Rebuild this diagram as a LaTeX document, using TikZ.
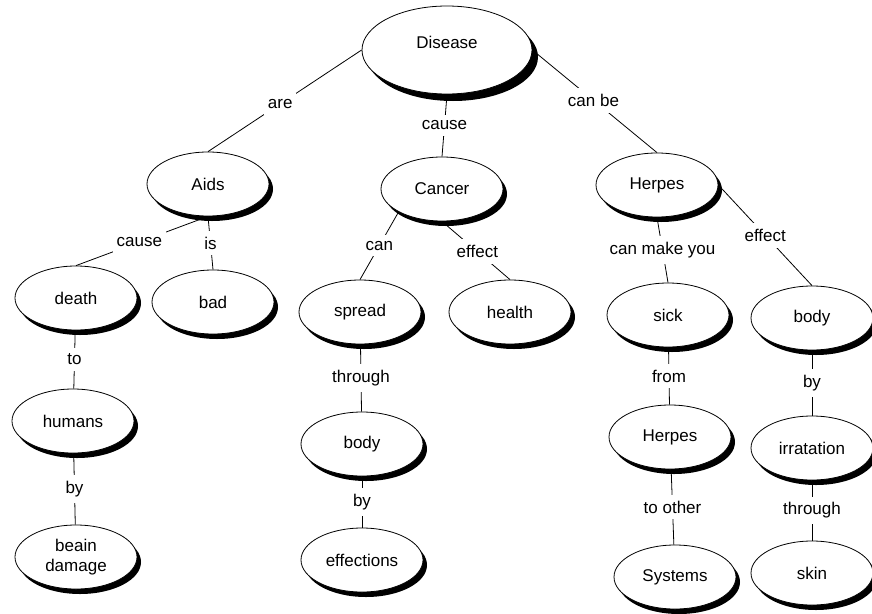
\documentclass[tikz,border=0pt]{standalone}
\usepackage{fontspec}
\setmainfont{Liberation Sans}
\usetikzlibrary{shapes.geometric, shadows, positioning}

\begin{document}
\begin{tikzpicture}[
	x=1pt, y=-1pt,
	font=\fontsize{17}{20}\selectfont,
	concept/.style = {ellipse, draw, fill=white, line width=0.8pt, minimum width=122pt, minimum height=64pt,
		inner sep=0pt, align=center, drop shadow={opacity=1, fill=black, shadow xshift=4pt, shadow yshift=-5pt}},
	rel/.style = {fill=white, inner xsep=4pt, inner ysep=6pt},
	link/.style = {line width=0.8pt}
	]
	\clip (0,0) rectangle (872,613);

	% concepts
	\node[concept, minimum width=170pt, minimum height=88pt, text depth=16pt,
		drop shadow={opacity=1, fill=black, shadow xshift=6pt, shadow yshift=-7pt}] (disease) at (447,50) {Disease};
	\node[concept] (aids) at (208,184) {Aids};
	\node[concept] (cancer) at (442,189) {Cancer};
	\node[concept] (herpes) at (657,185) {Herpes};

	\node[concept] (death) at (76,298) {death};
	\node[concept] (bad) at (213,302) {bad};
	\node[concept] (spread) at (360,312) {spread};
	\node[concept] (health) at (510,312) {health};
	\node[concept] (sick) at (668,315) {sick};
	\node[concept] (bodyr) at (812,318) {body};

	\node[concept] (humans) at (73,421) {humans};
	\node[concept] (bodym) at (362,444) {body};
	\node[concept] (herpesb) at (670,437) {Herpes};
	\node[concept] (irratation) at (812,448) {irratation};

	\node[concept] (brain) at (76,557) {beain\\damage};
	\node[concept] (effections) at (362,560) {effections};
	\node[concept] (systems) at (675,577) {Systems};
	\node[concept] (skin) at (812,573) {skin};

	% links
	\draw[link] (disease.west) -- node[rel, pos=0.53] (are) {are} (aids.north);
	\draw[link] (disease.south) -- node[rel] (cause) {cause} (cancer.north);
	\draw[link] (disease.east) -- node[rel, pos=0.49] (canbe) {can be} (herpes.north);

	\draw[link] (aids.south) -- node[rel, pos=0.52] (aidscause) {cause} (death.north);
	\draw[link] (aids.south) -- node[rel] (is) {is} (bad.north);
	\draw[link] (cancer.south west) -- node[rel, pos=0.5] (can) {can} (spread.north);
	\draw[link] (cancer.south) -- node[rel, pos=0.52] (effect) {effect} (health.north);
	\draw[link] (herpes.south) -- node[rel] (makeyou) {can make you} (sick.north);
	\draw[link] (herpes.east) -- node[rel] (herpeseffect) {effect} (bodyr.north);

	\draw[link] (death) -- node[rel] (to) {to} (humans);
	\draw[link] (humans) -- node[rel] (by) {by} (brain);
	\draw[link] (spread) -- node[rel] (through) {through} (bodym);
	\draw[link] (bodym) -- node[rel] (bodyby) {by} (effections);
	\draw[link] (sick) -- node[rel] (from) {from} (herpesb);
	\draw[link] (herpesb) -- node[rel] (toother) {to other} (systems);
	\draw[link] (bodyr) -- node[rel] (irrby) {by} (irratation);
	\draw[link] (irratation) -- node[rel] (skinthrough) {through} (skin);
\end{tikzpicture}
\end{document}
